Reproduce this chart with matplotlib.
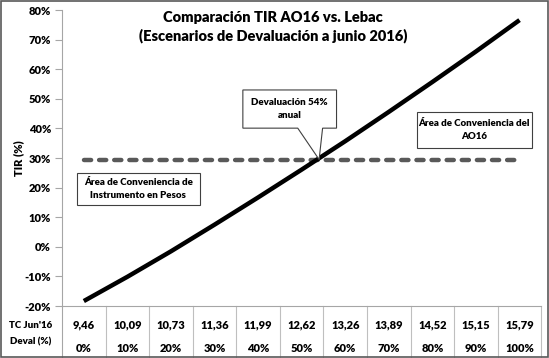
import matplotlib.pyplot as plt
from matplotlib.patches import Polygon, Rectangle
import matplotlib.transforms as mtransforms

plt.rcParams['font.family'] = ['Lato', 'DejaVu Sans']

# escenarios de devaluacion
deval = ['0%', '10%', '20%', '30%', '40%', '50%', '60%', '70%', '80%', '90%', '100%']
tc_jun16 = ['9,46', '10,09', '10,73', '11,36', '11,99', '12,62', '13,26', '13,89', '14,52', '15,15', '15,79']
tir_ao16 = [-18.3, -10.1, -1.5, 7.5, 16.7, 26.1, 35.7, 45.6, 55.7, 66.0, 76.6]
tir_lebac = [29.5] * len(deval)
yticks = [-20, -10, 0, 10, 20, 30, 40, 50, 60, 70, 80]

fig = plt.figure(figsize=(5.49, 3.58), dpi=100)
ax = fig.add_axes([0.113, 0.145, 0.873, 0.827])
x = list(range(len(deval)))

ax.plot(x, tir_lebac, color='#595959', lw=3.2, dashes=(1.6, 1.8),
        dash_capstyle='round', zorder=2)
ax.plot(x, tir_ao16, color='black', lw=3.2, solid_capstyle='butt', zorder=3)

ax.set_xlim(-0.5, len(deval) - 0.5)
ax.set_ylim(-20, 80)
ax.set_yticks(yticks)
ax.set_yticklabels([f'{v}%' for v in yticks], fontsize=8, fontweight='heavy')
ax.set_xticks([])
for s in ['top', 'right']:
    ax.spines[s].set_visible(False)
ax.spines['left'].set_color('#a6a6a6')
ax.spines['bottom'].set_color('#a6a6a6')
ax.tick_params(axis='y', color='#a6a6a6', length=5, pad=3)
ax.set_ylabel('TIR (%)', fontsize=8, fontweight='heavy', labelpad=0)

fig.text(0.497, 1 - 27 / 358, 'Comparación TIR AO16 vs. Lebac\n(Escenarios de Devaluación a junio 2016)',
         ha='center', va='center', fontsize=10.5, fontweight='heavy', linespacing=1.3)

# tabla debajo del eje
trans = mtransforms.blended_transform_factory(ax.transData, fig.transFigure)
for i in range(len(deval)):
    ax.text(i, 1 - 325 / 358, tc_jun16[i], transform=trans, ha='center', va='center',
            fontsize=8, fontweight='heavy')
    ax.text(i, 1 - 349 / 358, deval[i], transform=trans, ha='center', va='center',
            fontsize=8, fontweight='heavy')
    ax.plot([i + 0.5, i + 0.5], [0, 0.145], transform=trans, color='#bfbfbf', lw=0.8,
            clip_on=False)
ax.plot([-0.5, -0.5], [0, 0.145], transform=trans, color='#a6a6a6', lw=0.8, clip_on=False)
fig.text(31 / 549, 1 - 325 / 358, "TC Jun'16", ha='center', va='center', fontsize=7, fontweight='heavy')
fig.text(31 / 549, 1 - 342 / 358, 'Deval (%)', ha='center', va='center', fontsize=7, fontweight='heavy')

# cuadros de texto
ax.add_patch(Rectangle((7.64, 33.4), 2.64, 12.1, fc='white', ec='#404040', lw=0.8, zorder=4))
ax.text(8.96, 39.45, 'Área de Conveniencia del\nAO16', ha='center', va='center', fontsize=7,
        fontweight='heavy', linespacing=1.5, zorder=5)
ax.add_patch(Rectangle((-0.16, 14.1), 2.82, 10.8, fc='white', ec='#404040', lw=0.8, zorder=4))
ax.text(1.25, 19.5, 'Área de Conveniencia de\nInstrumento en Pesos', ha='center', va='center',
        fontsize=7, fontweight='heavy', linespacing=1.5, zorder=5)

callout = Polygon([(3.65, 53.0), (5.80, 53.0), (5.80, 40.1), (5.48, 40.1), (5.4, 29.5),
                   (4.91, 40.1), (3.65, 40.1)], closed=True, fc='white', ec='#404040', lw=0.8, zorder=4)
ax.add_patch(callout)
ax.text(4.72, 46.6, 'Devaluación 54%\nanual', ha='center', va='center', fontsize=7,
        fontweight='heavy', linespacing=1.5, zorder=5)

fig.patches.append(Rectangle((0.001, 0.002), 0.997, 0.995, transform=fig.transFigure,
                             fill=False, ec='#595959', lw=1.2))

fig.savefig('out.png', dpi=100)
